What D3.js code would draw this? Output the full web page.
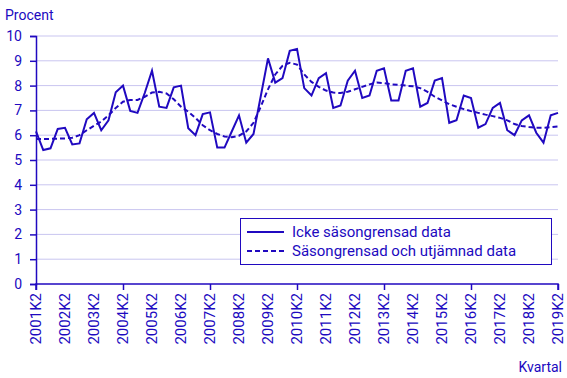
<!DOCTYPE html>
<html><head><meta charset="utf-8">
<script src="https://cdn.jsdelivr.net/npm/d3@7"></script>
<style>body{margin:0;background:#fff}svg{display:block;font-family:Roboto,sans-serif}</style>
</head><body><svg id="c" width="567" height="378"></svg>
<script>
const years = d3.range(2001, 2020);
const quarters = [];
for (let y = 2001; y <= 2019; y++) for (let q = 1; q <= 4; q++) {
  if ((y === 2001 && q < 2) || (y === 2019 && q > 2)) continue;
  quarters.push(y + "K" + q);
}
const rawSeries = [6.15,5.4,5.47,6.25,6.3,5.63,5.67,6.64,6.9,6.2,6.6,7.73,8.0,
  6.98,6.9,7.7,8.6,7.15,7.1,7.93,8.0,6.28,6.0,6.85,6.92,
  5.5,5.5,6.15,6.8,5.7,6.05,7.57,9.1,8.12,8.3,9.4,9.48,
  7.9,7.6,8.3,8.5,7.1,7.2,8.2,8.6,7.5,7.6,8.6,8.7,
  7.4,7.4,8.6,8.7,7.15,7.3,8.2,8.3,6.5,6.6,7.6,7.5,
  6.3,6.45,7.1,7.3,6.2,6.0,6.6,6.8,6.1,5.7,6.8,6.9];
const smoothSeries = [5.85,5.85,5.85,5.86,5.87,5.9,6.0,6.2,6.38,6.55,6.8,7.1,7.35,
  7.42,7.42,7.55,7.72,7.75,7.68,7.45,7.15,6.95,6.7,6.4,6.2,
  6.05,5.95,5.92,5.98,6.15,6.5,7.15,7.85,8.45,8.8,8.92,8.85,
  8.45,8.15,7.95,7.8,7.72,7.7,7.75,7.85,7.95,8.05,8.12,8.1,
  8.05,8.03,8.0,7.97,7.9,7.75,7.55,7.4,7.25,7.15,7.05,6.97,
  6.9,6.83,6.77,6.7,6.6,6.45,6.37,6.33,6.3,6.3,6.32,6.35];
const yTicks = d3.range(0, 11);
const xLabels = years.map(y => y + "K2");
const xTickMarks = ["2001K2","2004K2","2007K2","2010K2","2013K2","2016K2","2019K2"];
const legendLabels = ["Icke säsongrensad data", "Säsongrensad och utjämnad data"];

const col = "#2009c0";
const grid = "#c9c5f0";
const svg = d3.select("#c");
const L = 36, R = 558, T = 36, B = 284;
const x = d3.scalePoint().domain(quarters).range([L, R]);
const y = d3.scaleLinear().domain([0, 10]).range([B, T]);

// grid
svg.append("g").selectAll("line").data(yTicks.filter(d => d > 0)).join("line")
  .attr("x1", L).attr("x2", R).attr("y1", d => y(d)).attr("y2", d => y(d))
  .attr("stroke", grid).attr("stroke-width", 1);

// y axis
const ya = svg.append("g").attr("transform", `translate(${L},0)`)
  .call(d3.axisLeft(y).tickValues(yTicks).tickSize(6).tickPadding(8).tickFormat(d3.format("d")));
ya.select(".domain").attr("stroke", col).attr("stroke-width", 1.5);
ya.selectAll(".tick line").attr("stroke", col).attr("stroke-width", 1.5);
ya.selectAll("text").attr("fill", col).attr("font-size", 14).attr("font-family", "Roboto");

// x axis
const xa = svg.append("g").attr("transform", `translate(0,${B})`)
  .call(d3.axisBottom(x).tickValues(xTickMarks).tickSize(6).tickFormat(""));
xa.select(".domain").attr("stroke", col).attr("stroke-width", 1.5).attr("d", `M${L},6V0H${R}V6`);
xa.selectAll(".tick line").attr("stroke", col).attr("stroke-width", 1.5);
svg.append("g").selectAll("text").data(xLabels).join("text")
  .attr("transform", d => `translate(${x(d) + 5},${B + 9}) rotate(-90)`)
  .attr("text-anchor", "end").attr("fill", col).attr("font-size", 15)
  .text(d => d);

// lines
const line = d3.line().x((d, i) => x(quarters[i])).y(d => y(d));
svg.append("path").datum(smoothSeries).attr("d", line).attr("fill", "none")
  .attr("stroke", col).attr("stroke-width", 2).attr("stroke-dasharray", "5,3");
svg.append("path").datum(rawSeries).attr("d", line).attr("fill", "none")
  .attr("stroke", col).attr("stroke-width", 2).attr("stroke-linejoin", "miter");

// titles
svg.append("text").attr("x", 5).attr("y", 20).attr("fill", col).attr("font-size", 14).text("Procent");
svg.append("text").attr("x", 562).attr("y", 372).attr("text-anchor", "end").attr("fill", col).attr("font-size", 14).text("Kvartal");

// legend
const lg = svg.append("g");
lg.append("rect").attr("x", 240.5).attr("y", 218.5).attr("width", 311).attr("height", 46)
  .attr("fill", "#fff").attr("stroke", col).attr("stroke-width", 1);
legendLabels.forEach((t, i) => {
  const yy = 232 + i * 19;
  lg.append("line").attr("x1", 247).attr("x2", 284).attr("y1", yy).attr("y2", yy)
    .attr("stroke", col).attr("stroke-width", 2).attr("stroke-dasharray", i ? "5,3" : null);
  lg.append("text").attr("x", 292).attr("y", yy + 5).attr("fill", col).attr("font-size", 15).text(t);
});
</script></body></html>
